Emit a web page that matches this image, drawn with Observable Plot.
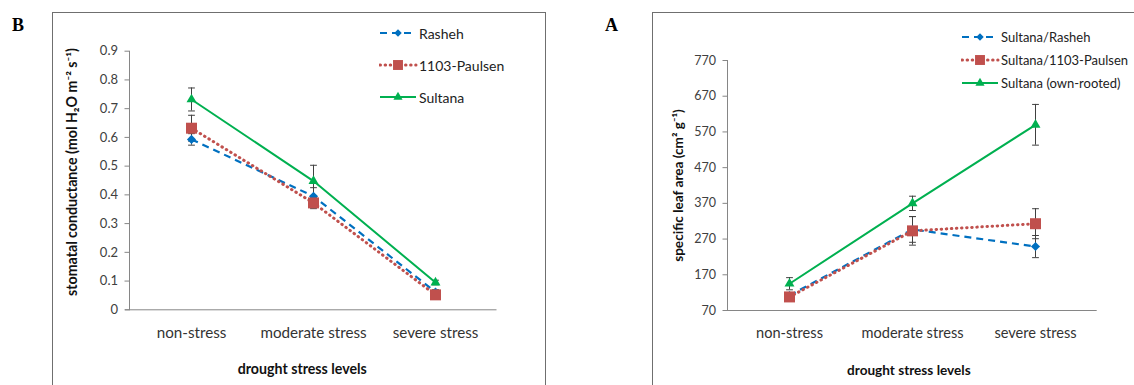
<!DOCTYPE html>
<html>
<head>
<meta charset="utf-8">
<script src="https://cdn.jsdelivr.net/npm/d3@7"></script>
<script src="https://cdn.jsdelivr.net/npm/@observablehq/plot@0.6"></script>
<style>
  html, body { margin: 0; padding: 0; background: #fff; }
  body { width: 1134px; height: 385px; overflow: hidden; position: relative; font-family: Lato, "Open Sans", sans-serif; }
  .frame { position: absolute; border: 1px solid #6f6f6f; }
  .plotbox { position: absolute; }
  .panel-letter { position: absolute; font-family: "Liberation Serif", serif; font-weight: bold; font-size: 18px; line-height: 1; color: #000; }
  .legend { position: absolute; color: #222; }
  .legend .row { position: absolute; white-space: nowrap; display: flex; align-items: center; }
  .legend svg { display: block; }
  g[aria-label="y-axis tick label"] text { fill: #404040; }
  g[aria-label="x-axis tick label"] text { fill: #333; }
</style>
</head>
<body>
<script>
// ---------- DATA ----------
const stages = ["non-stress", "moderate stress", "severe stress"];
const xTitle = "drought stress levels";

// Panel B: stomatal conductance (mol H2O m-2 s-1)
const gsNames = ["Rasheh", "1103-Paulsen", "Sultana"];
const gsRasheh = [0.593, 0.395, 0.062];
const gsPaulsen = [0.632, 0.372, 0.052];
const gsSultana = [0.732, 0.448, 0.095];
const gsRashehErr = [0.02, 0.03, 0.008];
const gsPaulsenErr = [0.045, 0.02, 0.008];
const gsSultanaErr = [0.04, 0.055, 0.008];
const gsTicks = [0, 0.1, 0.2, 0.3, 0.4, 0.5, 0.6, 0.7, 0.8, 0.9];
const gsLabel = "stomatal conductance (mol H\u2082O m\u207B\u00B2 s\u207B\u00B9)";

// Panel A: specific leaf area (cm2 g-1)
const slaNames = ["Sultana/Rasheh", "Sultana/1103-Paulsen", "Sultana (own-rooted)"];
const slaRasheh = [112, 297, 249];
const slaPaulsen = [108, 293, 313];
const slaSultana = [145, 370, 590];
const slaRashehErr = [8, 36, 31];
const slaPaulsenErr = [8, 40, 42];
const slaSultanaErr = [17, 20, 57];
const slaTicks = [70, 170, 270, 370, 470, 570, 670, 770];
const slaLabel = "specific leaf area (cm\u00B2 g\u207B\u00B9)";

// ---------- STYLES ----------
const styles = [
  {color: "#0070C0", dash: "7,5", width: 2.2, cap: "butt", symbol: "diamond2", r: 4.1, lr: 3.4},
  {color: "#C0504D", dash: "0.5,4.6", width: 3, cap: "round", symbol: "square", r: 6.2, lr: 5.6},
  {color: "#00B050", dash: null, width: 2, cap: "butt", symbol: "triangle", r: 3.7, lr: 3.4}
];

const capSymbol = {draw(ctx) { ctx.moveTo(-3.4, 0); ctx.lineTo(3.4, 0); }};

function rows(name, vals, errs) {
  return stages.map((s, i) => ({stage: s, series: name, v: vals[i], lo: vals[i] - errs[i], hi: vals[i] + errs[i]}));
}

function panel(cfg) {
  const marks = [
    Plot.frame({anchor: "left", stroke: "#868686"}),
    Plot.ruleY([cfg.yDomain[0]], {stroke: "#868686", insetLeft: -4}),
    Plot.axisY({ticks: cfg.yTicks, tickSize: 4.5, tickPadding: 7, tickFormat: d => String(d),
      label: null, stroke: "#868686", fontSize: cfg.yTickFont}),
    Plot.axisX({tickSize: 0, tickPadding: 17, label: null, fontSize: cfg.xTickFont}),
    Plot.text([cfg.yLabel], {frameAnchor: "left", rotate: -90, textAnchor: "middle", lineAnchor: "middle",
      dx: cfg.yTitleDx, dy: cfg.yTitleDy, fontWeight: "bold", fontSize: cfg.titleFont, fill: "#111"}),
    Plot.text([xTitle], {frameAnchor: "bottom", textAnchor: "middle", lineAnchor: "middle",
      dx: cfg.xTitleDx, dy: 60, fontWeight: "bold", fontSize: cfg.titleFont, fill: "#111"})
  ];
  cfg.series.forEach((s) => {
    const data = rows(s.name, s.vals, s.errs);
    marks.push(
      Plot.ruleX(data, {x: "stage", y1: "lo", y2: "hi", stroke: "#404040", strokeWidth: 1}),
      Plot.dot(data, {x: "stage", y: "lo", symbol: capSymbol, stroke: "#404040", strokeWidth: 1}),
      Plot.dot(data, {x: "stage", y: "hi", symbol: capSymbol, stroke: "#404040", strokeWidth: 1})
    );
  });
  cfg.series.forEach((s, i) => {
    const st = styles[i];
    const data = rows(s.name, s.vals, s.errs);
    marks.push(
      Plot.line(data, {x: "stage", y: "v", stroke: st.color, strokeWidth: st.width,
        strokeDasharray: st.dash || undefined, strokeLinecap: st.cap}),
      Plot.dot(data, {x: "stage", y: "v", symbol: st.symbol, r: st.r, fill: st.color, stroke: "none"})
    );
  });
  return Plot.plot({
    width: cfg.width, height: cfg.height,
    marginLeft: cfg.marginLeft, marginRight: cfg.marginRight,
    marginTop: cfg.marginTop, marginBottom: cfg.marginBottom,
    style: {fontFamily: "Lato, 'Open Sans', sans-serif", fontSize: "13px", background: "transparent", overflow: "visible", color: "#333"},
    x: {type: "point", domain: stages, padding: 0.5},
    y: {domain: cfg.yDomain},
    marks
  });
}

function legend(left, top, names, rowGap, lineW, fontSize) {
  const div = document.createElement("div");
  div.className = "legend";
  div.style.left = left + "px";
  div.style.top = top + "px";
  div.style.fontSize = fontSize + "px";
  names.forEach((n, i) => {
    const st = styles[i];
    const row = document.createElement("div");
    row.className = "row";
    row.style.top = (i * rowGap - 10) + "px";
    const svg = d3.create("svg").attr("width", lineW + 3).attr("height", 20);
    svg.append("line").attr("x1", 1).attr("x2", lineW).attr("y1", 10).attr("y2", 10)
      .attr("stroke", st.color).attr("stroke-width", st.width)
      .attr("stroke-dasharray", st.dash).attr("stroke-linecap", st.cap);
    const symMap = {diamond2: d3.symbolDiamond2, square: d3.symbolSquare, triangle: d3.symbolTriangle};
    svg.append("path").attr("transform", `translate(${(lineW + 1) / 2},10)`)
      .attr("d", d3.symbol(symMap[st.symbol], Math.PI * st.lr * st.lr)())
      .attr("fill", st.color);
    row.appendChild(svg.node());
    const t = document.createElement("span");
    t.textContent = n;
    row.appendChild(t);
    div.appendChild(row);
  });
  document.body.appendChild(div);
}

function addDiv(cls, left, top, width, height, text) {
  const d = document.createElement("div");
  d.className = cls;
  d.style.left = left + "px"; d.style.top = top + "px";
  if (width != null) d.style.width = width + "px";
  if (height != null) d.style.height = height + "px";
  if (text) d.textContent = text;
  document.body.appendChild(d);
  return d;
}

// frames and panel letters
addDiv("frame", 52, 12, 492, 400);
addDiv("frame", 652, 12, 600, 400);
addDiv("panel-letter", 12, 16, null, null, "B");
addDiv("panel-letter", 605, 16, null, null, "A");

// Panel B
const boxB = addDiv("plotbox", 52, 12, 494, 373);
boxB.appendChild(panel({
  width: 494, height: 373, marginLeft: 77, marginRight: 49.5, marginTop: 38.7, marginBottom: 75.7,
  yDomain: [0, 0.9], yTicks: gsTicks, yLabel: gsLabel,
  yTitleDx: -57, yTitleDy: -8.5, xTitleDx: -11, titleFont: 14.2, xTickFont: 15.2, yTickFont: 13,
  series: [
    {name: gsNames[0], vals: gsRasheh, errs: gsRashehErr},
    {name: gsNames[1], vals: gsPaulsen, errs: gsPaulsenErr},
    {name: gsNames[2], vals: gsSultana, errs: gsSultanaErr}
  ]
}));

// Panel A
const boxA = addDiv("plotbox", 652, 12, 482, 373);
boxA.appendChild(panel({
  width: 482, height: 373, marginLeft: 75, marginRight: 37.3, marginTop: 48, marginBottom: 75,
  yDomain: [70, 770], yTicks: slaTicks, yLabel: slaLabel,
  yTitleDx: -49, yTitleDy: 0, xTitleDx: -3.5, titleFont: 13.6, xTickFont: 14.6, yTickFont: 12.5,
  series: [
    {name: slaNames[0], vals: slaRasheh, errs: slaRashehErr},
    {name: slaNames[1], vals: slaPaulsen, errs: slaPaulsenErr},
    {name: slaNames[2], vals: slaSultana, errs: slaSultanaErr}
  ]
}));

legend(379, 33, gsNames, 32, 37, 14);
legend(961, 37.3, slaNames, 23, 37, 13);
</script>
</body>
</html>
